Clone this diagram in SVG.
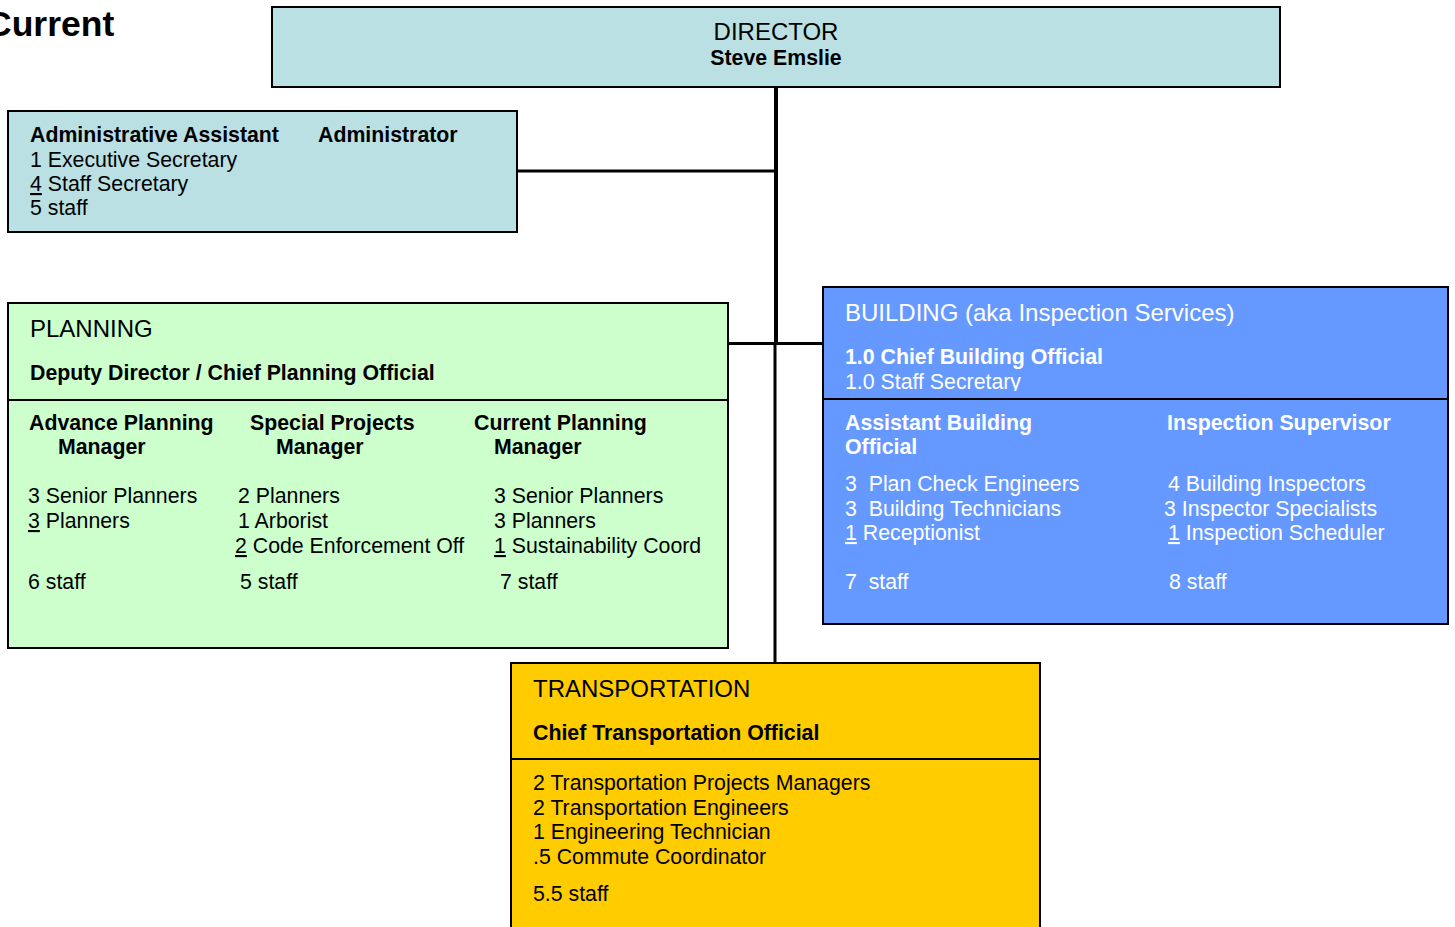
<svg xmlns="http://www.w3.org/2000/svg" width="1455" height="927" viewBox="0 0 1455 927">
<style>
text{font-family:"Liberation Sans",Arial,sans-serif;font-size:21.3px;fill:#000;white-space:pre}
.t{font-size:24px}
.b{font-weight:bold}
.w{fill:#fff}
.u{text-decoration:underline}
.box{stroke:#000;stroke-width:2}
.div{stroke:#000;stroke-width:2}
.con{stroke:#000;fill:none}
</style>
<defs>
<clipPath id="bclip"><rect x="823" y="287" width="625" height="104"/></clipPath>
</defs>
<text x="-14" y="36" class="b" style="font-size:35.5px">Current</text>
<g id="connectors">
<path class="con" d="M776 87V344" stroke-width="4"/>
<path class="con" d="M775 342V663" stroke-width="3"/>
<path class="con" d="M517 171H777" stroke-width="3"/>
<path class="con" d="M728 343.5H823" stroke-width="3"/>
</g>
<g id="director">
<rect class="box" x="272" y="7" width="1008" height="80" fill="#BAE0E3"/>
<text x="776" y="40" class="t" text-anchor="middle">DIRECTOR</text>
<text x="776" y="65" class="b" text-anchor="middle">Steve Emslie</text>
</g>
<g id="admin">
<rect class="box" x="8" y="111" width="509" height="121" fill="#BAE0E3"/>
<text x="30" y="142" class="b">Administrative Assistant</text>
<text x="318" y="142" class="b">Administrator</text>
<text x="30" y="167">1 Executive Secretary</text>
<text x="30" y="191"><tspan class="u">4</tspan> Staff Secretary</text>
<text x="30" y="215">5 staff</text>
</g>
<g id="planning">
<rect class="box" x="8" y="303" width="720" height="345" fill="#CCFFCC"/>
<line class="div" x1="8" y1="400" x2="728" y2="400"/>
<text x="30" y="337" class="t">PLANNING</text>
<text x="30" y="380" class="b">Deputy Director / Chief Planning Official</text>
<text x="29" y="430" class="b">Advance Planning</text>
<text x="58" y="454" class="b">Manager</text>
<text x="250" y="430" class="b">Special Projects</text>
<text x="276" y="454" class="b">Manager</text>
<text x="474" y="430" class="b">Current Planning</text>
<text x="494" y="454" class="b">Manager</text>
<text x="28" y="503">3 Senior Planners</text>
<text x="28" y="528"><tspan class="u">3</tspan> Planners</text>
<text x="28" y="589">6 staff</text>
<text x="238" y="503">2 Planners</text>
<text x="238" y="528">1 Arborist</text>
<text x="235" y="553"><tspan class="u">2</tspan> Code Enforcement Off</text>
<text x="240" y="589">5 staff</text>
<text x="494" y="503">3 Senior Planners</text>
<text x="494" y="528">3 Planners</text>
<text x="494" y="553"><tspan class="u">1</tspan> Sustainability Coord</text>
<text x="500" y="589">7 staff</text>
</g>
<g id="building">
<rect class="box" x="823" y="287" width="625" height="337" fill="#6699FF"/>
<line class="div" x1="823" y1="399" x2="1448" y2="399"/>
<text x="845" y="321" class="t w">BUILDING (aka Inspection Services)</text>
<text x="845" y="364" class="b w">1.0 Chief Building Official</text>
<text x="845" y="389" class="w" clip-path="url(#bclip)">1.0 Staff Secretary</text>
<text x="845" y="430" class="b w">Assistant Building</text>
<text x="845" y="454" class="b w">Official</text>
<text x="1167" y="430" class="b w">Inspection Supervisor</text>
<text x="845" y="491" class="w">3  Plan Check Engineers</text>
<text x="845" y="516" class="w">3  Building Technicians</text>
<text x="845" y="540" class="w"><tspan class="u">1</tspan> Receptionist</text>
<text x="845" y="589" class="w">7  staff</text>
<text x="1168" y="491" class="w">4 Building Inspectors</text>
<text x="1164" y="516" class="w">3 Inspector Specialists</text>
<text x="1168" y="540" class="w"><tspan class="u">1</tspan> Inspection Scheduler</text>
<text x="1169" y="589" class="w">8 staff</text>
</g>
<g id="transportation">
<rect class="box" x="511" y="663" width="529" height="280" fill="#FFCC00"/>
<line class="div" x1="511" y1="759" x2="1040" y2="759"/>
<text x="533" y="697" class="t">TRANSPORTATION</text>
<text x="533" y="740" class="b">Chief Transportation Official</text>
<text x="533" y="790">2 Transportation Projects Managers</text>
<text x="533" y="815">2 Transportation Engineers</text>
<text x="533" y="839">1 Engineering Technician</text>
<text x="533" y="864">.5 Commute Coordinator</text>
<text x="533" y="901">5.5 staff</text>
</g>
</svg>
